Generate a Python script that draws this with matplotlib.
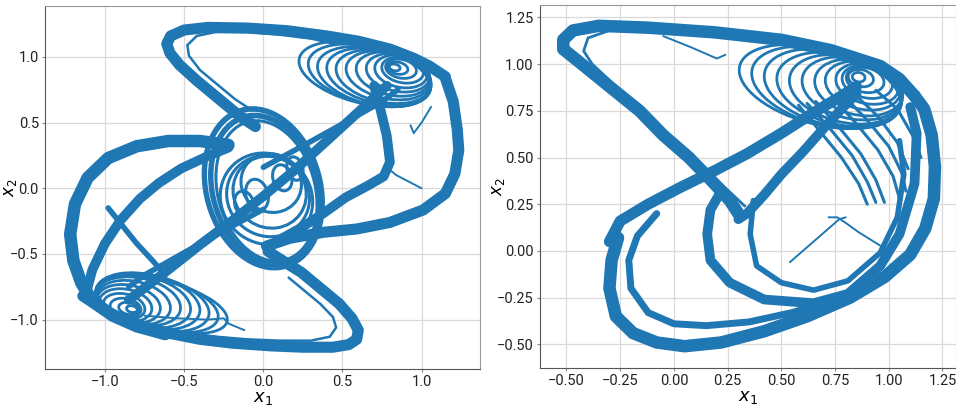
import matplotlib
matplotlib.use("Agg")
import matplotlib.pyplot as plt
from matplotlib.patches import Ellipse

plt.rcParams['font.family'] = ['Roboto', 'DejaVu Sans']

C = '#1f77b4'

# ---------------- left panel (three-scroll attractor) ----------------
left_top_x = [1.15, 1.05, 0.95, 0.80, 0.60, 0.40, 0.15, -0.10, -0.35, -0.50, -0.585, -0.61, -0.59, -0.53, -0.42, -0.28, -0.15, -0.05]
left_top_y = [0.85, 0.93, 0.99, 1.06, 1.12, 1.16, 1.20, 1.22, 1.225, 1.205, 1.16, 1.10, 1.03, 0.94, 0.82, 0.68, 0.55, 0.47]
left_top_in_x = [0.45, 0.30, 0.10, -0.10, -0.30, -0.42, -0.48, -0.47, -0.40, -0.29, -0.18, -0.08]
left_top_in_y = [1.10, 1.14, 1.17, 1.19, 1.19, 1.16, 1.09, 1.01, 0.90, 0.79, 0.68, 0.60]
left_bot_x = [-1.14, -1.00, -0.85, -0.61, -0.40, -0.19, 0.05, 0.25, 0.44, 0.54, 0.59, 0.60, 0.56, 0.48, 0.36, 0.24, 0.12, 0.03]
left_bot_y = [-0.82, -0.93, -1.02, -1.10, -1.15, -1.18, -1.20, -1.21, -1.21, -1.19, -1.15, -1.08, -0.99, -0.88, -0.76, -0.64, -0.55, -0.48]
left_bot_in_x = [-0.50, -0.30, -0.10, 0.10, 0.30, 0.42, 0.46, 0.44, 0.36, 0.26, 0.16]
left_bot_in_y = [-1.10, -1.13, -1.15, -1.16, -1.16, -1.13, -1.06, -0.98, -0.88, -0.78, -0.68]
left_hook_x = [-0.75, -0.55, -0.35, -0.25, -0.22, -0.12]
left_hook_y = [-0.97, -0.99, -1.00, -0.99, -1.03, -1.08]
left_outer_l_x = [-0.22, -0.40, -0.60, -0.80, -0.98, -1.11, -1.19, -1.22, -1.20, -1.15, -1.08, -0.95, -0.80, -0.62]
left_outer_l_y = [0.33, 0.36, 0.36, 0.32, 0.23, 0.08, -0.12, -0.35, -0.55, -0.72, -0.86, -0.97, -1.05, -1.11]
left_inner_l_x = [-1.12, -1.08, -1.00, -0.90, -0.78, -0.66, -0.52, -0.36, -0.22]
left_inner_l_y = [-0.80, -0.62, -0.42, -0.24, -0.08, 0.04, 0.15, 0.24, 0.31]
left_desc_x = [-0.98, -0.90, -0.80, -0.70, -0.62]
left_desc_y = [-0.15, -0.27, -0.42, -0.55, -0.66]
left_outer_r_x = [1.15, 1.20, 1.225, 1.235, 1.21, 1.15, 1.01, 0.80, 0.59, 0.38, 0.17, 0.02]
left_outer_r_y = [0.84, 0.66, 0.45, 0.29, 0.11, -0.04, -0.165, -0.26, -0.31, -0.335, -0.38, -0.44]
left_inner_r_x = [0.70, 0.74, 0.78, 0.80, 0.76, 0.66, 0.52, 0.38, 0.24, 0.12]
left_inner_r_y = [0.78, 0.60, 0.40, 0.20, 0.09, 0.02, -0.07, -0.19, -0.30, -0.38]
left_diag_x = [-0.85, -0.60, -0.40, -0.20, 0.00, 0.20, 0.40, 0.60, 0.78]
left_diag_y = [-0.85, -0.62, -0.43, -0.25, -0.06, 0.14, 0.36, 0.58, 0.78]
left_diag_up_x = [0.00, 0.26, 0.50, 0.75, 0.85]
left_diag_up_y = [0.16, 0.33, 0.49, 0.66, 0.75]
left_diag_lo_x = [-0.85, -0.75, -0.50, -0.26, 0.00]
left_diag_lo_y = [-0.75, -0.66, -0.49, -0.33, -0.16]
left_trans_x = [1.00, 0.92, 0.84, 0.78]
left_trans_y = [0.00, 0.05, 0.10, 0.16]
left_tri_x = [1.06, 1.00, 0.95, 0.93]
left_tri_y = [0.62, 0.50, 0.42, 0.48]

# scrolls (loop centres, widths, heights)
lur_cx = [0.83, 0.85, 0.87, 0.88, 0.87, 0.85, 0.82, 0.79, 0.76, 0.73, 0.70, 0.67, 0.64]
lur_cy = [0.92, 0.915, 0.91, 0.90, 0.89, 0.88, 0.87, 0.86, 0.85, 0.85, 0.85, 0.86, 0.87]
lur_w = [0.07, 0.13, 0.20, 0.27, 0.34, 0.41, 0.48, 0.55, 0.62, 0.68, 0.74, 0.80, 0.86]
lur_h = [0.05, 0.09, 0.14, 0.19, 0.24, 0.28, 0.32, 0.35, 0.38, 0.40, 0.42, 0.43, 0.44]
lll_cx = [-0.83, -0.85, -0.87, -0.88, -0.87, -0.85, -0.82, -0.79, -0.76, -0.73, -0.70, -0.67, -0.64]
lll_cy = [-0.92, -0.915, -0.91, -0.90, -0.89, -0.88, -0.87, -0.86, -0.86, -0.86, -0.87, -0.88, -0.89]
lll_w = [0.07, 0.13, 0.20, 0.27, 0.34, 0.41, 0.48, 0.55, 0.62, 0.68, 0.74, 0.80, 0.86]
lll_h = [0.05, 0.09, 0.14, 0.19, 0.24, 0.28, 0.32, 0.35, 0.38, 0.40, 0.40, 0.38, 0.36]
lc_cx = [0.00, 0.00, 0.01, 0.01, 0.02, 0.02, 0.03, 0.04, 0.05, -0.12, -0.04, 0.12, 0.20]
lc_cy = [0.00, 0.00, -0.01, -0.01, -0.02, -0.08, -0.06, -0.03, 0.04, -0.12, -0.05, 0.08, 0.15]
lc_w = [0.74, 0.71, 0.68, 0.65, 0.62, 0.58, 0.52, 0.46, 0.38, 0.12, 0.14, 0.12, 0.10]
lc_h = [1.24, 1.20, 1.16, 1.12, 1.08, 0.70, 0.62, 0.55, 0.45, 0.20, 0.24, 0.20, 0.18]

# ---------------- right panel ----------------
right_top_x = [1.12, 1.05, 0.96, 0.73, 0.50, 0.19, -0.12, -0.35, -0.47, -0.515, -0.515, -0.45, -0.30, -0.16, -0.05, 0.07, 0.18, 0.26, 0.30]
right_top_y = [0.83, 0.92, 0.99, 1.075, 1.13, 1.17, 1.195, 1.205, 1.18, 1.13, 1.08, 1.02, 0.88, 0.75, 0.62, 0.50, 0.37, 0.27, 0.20]
right_top_in_x = [0.35, 0.15, -0.10, -0.30, -0.40, -0.42, -0.38, -0.25, -0.10, 0.05, 0.20, 0.33]
right_top_in_y = [1.14, 1.16, 1.18, 1.18, 1.14, 1.07, 1.00, 0.86, 0.71, 0.54, 0.38, 0.24]
right_v_x = [0.30, 0.34, 0.42, 0.50, 0.60, 0.70, 0.78, 0.85]
right_v_y = [0.17, 0.20, 0.30, 0.41, 0.53, 0.66, 0.76, 0.84]
right_x_x = [-0.30, -0.25, -0.12, 0.03, 0.19, 0.34, 0.50, 0.65, 0.78, 0.85]
right_x_y = [0.05, 0.16, 0.25, 0.34, 0.43, 0.52, 0.63, 0.74, 0.83, 0.88]
right_outer_x = [1.12, 1.165, 1.20, 1.215, 1.21, 1.17, 1.10, 0.98, 0.82, 0.62, 0.42, 0.22, 0.05, -0.08, -0.19, -0.27, -0.30, -0.29, -0.26]
right_outer_y = [0.83, 0.76, 0.62, 0.45, 0.28, 0.12, -0.02, -0.14, -0.25, -0.35, -0.43, -0.49, -0.51, -0.49, -0.44, -0.35, -0.20, -0.05, 0.07]
right_outer2_x = [0.75, 0.55, 0.35, 0.15, 0.00, -0.12, -0.20, -0.21, -0.17, -0.08]
right_outer2_y = [-0.26, -0.33, -0.38, -0.40, -0.39, -0.33, -0.20, -0.05, 0.08, 0.20]
right_inner_x = [0.21, 0.17, 0.155, 0.17, 0.26, 0.42, 0.65, 0.81, 0.96, 1.05, 1.12, 1.13, 1.10]
right_inner_y = [0.30, 0.22, 0.09, -0.05, -0.17, -0.26, -0.28, -0.23, -0.08, 0.09, 0.36, 0.63, 0.77]
right_inner2_x = [0.37, 0.355, 0.385, 0.50, 0.65, 0.81, 0.96, 1.04, 1.07, 1.05]
right_inner2_y = [0.27, 0.09, -0.08, -0.17, -0.21, -0.16, -0.01, 0.18, 0.41, 0.59]
right_fan_a_x = [0.58, 0.68, 0.78, 0.86, 0.90]
right_fan_a_y = [0.78, 0.64, 0.50, 0.36, 0.25]
right_fan_b_x = [0.66, 0.77, 0.87, 0.94, 0.98]
right_fan_b_y = [0.80, 0.66, 0.52, 0.38, 0.26]
right_fan_c_x = [0.74, 0.85, 0.95, 1.02, 1.05]
right_fan_c_y = [0.82, 0.68, 0.54, 0.40, 0.28]
right_fan_d_x = [0.84, 0.95, 1.04, 1.09]
right_fan_d_y = [0.84, 0.72, 0.58, 0.44]
right_fan_e_x = [0.94, 1.04, 1.11, 1.15]
right_fan_e_y = [0.86, 0.76, 0.62, 0.50]
right_fan_f_x = [0.62, 0.73, 0.83, 0.90, 0.94]
right_fan_f_y = [0.79, 0.65, 0.51, 0.37, 0.26]
right_fan_g_x = [0.79, 0.90, 1.00, 1.06, 1.08]
right_fan_g_y = [0.83, 0.70, 0.56, 0.42, 0.32]
right_trans_x = [1.00, 0.93, 0.86, 0.80, 0.76, 0.72]
right_trans_y = [0.00, 0.05, 0.10, 0.15, 0.18, 0.18]
right_thin_x = [0.54, 0.62, 0.70, 0.77, 0.80]
right_thin_y = [-0.06, 0.02, 0.10, 0.17, 0.18]
right_hook_x = [-0.05, 0.08, 0.20, 0.24]
right_hook_y = [1.15, 1.09, 1.03, 1.05]
rs_cx = [0.86, 0.87, 0.89, 0.90, 0.90, 0.88, 0.86, 0.83, 0.80, 0.77, 0.74, 0.71, 0.68]
rs_cy = [0.93, 0.925, 0.915, 0.905, 0.895, 0.885, 0.875, 0.87, 0.865, 0.865, 0.87, 0.875, 0.88]
rs_w = [0.06, 0.12, 0.18, 0.24, 0.30, 0.36, 0.42, 0.48, 0.54, 0.60, 0.66, 0.72, 0.78]
rs_h = [0.05, 0.09, 0.13, 0.17, 0.21, 0.25, 0.29, 0.32, 0.35, 0.37, 0.39, 0.40, 0.40]

left_xticks = [-1.0, -0.5, 0.0, 0.5, 1.0]
left_yticks = [-1.0, -0.5, 0.0, 0.5, 1.0]
right_xticks = [-0.5, -0.25, 0.0, 0.25, 0.5, 0.75, 1.0, 1.25]
right_yticks = [-0.5, -0.25, 0.0, 0.25, 0.5, 0.75, 1.0, 1.25]

fig = plt.figure(figsize=(9.56, 4.13), dpi=100)
ax1 = fig.add_axes([0.0471, 0.1065, 0.455, 0.879])
ax2 = fig.add_axes([0.5649, 0.1097, 0.4351, 0.878])


def band(ax, x, y, lw):
    ax.plot(x, y, color=C, lw=lw, solid_joinstyle='round', solid_capstyle='round')


def scroll(ax, cx, cy, w, h, lw=2.0, ang=-18):
    for a, b, c, d in zip(cx, cy, w, h):
        ax.add_patch(Ellipse((a, b), c, d, angle=ang, fill=False, ec=C, lw=lw))


# left
band(ax1, left_top_x, left_top_y, 8)
band(ax1, left_top_in_x, left_top_in_y, 1.8)
band(ax1, left_bot_x, left_bot_y, 8)
band(ax1, left_bot_in_x, left_bot_in_y, 1.8)
band(ax1, left_hook_x, left_hook_y, 1.4)
band(ax1, left_outer_l_x, left_outer_l_y, 9)
band(ax1, left_inner_l_x, left_inner_l_y, 7)
band(ax1, left_desc_x, left_desc_y, 4)
band(ax1, left_outer_r_x, left_outer_r_y, 8)
band(ax1, left_inner_r_x, left_inner_r_y, 7)
band(ax1, left_diag_x, left_diag_y, 7)
band(ax1, left_diag_up_x, left_diag_up_y, 4)
band(ax1, left_diag_lo_x, left_diag_lo_y, 4)
band(ax1, left_trans_x, left_trans_y, 1.4)
band(ax1, left_tri_x, left_tri_y, 1.4)
scroll(ax1, lur_cx, lur_cy, lur_w, lur_h)
scroll(ax1, lll_cx, lll_cy, lll_w, lll_h)
scroll(ax1, lc_cx, lc_cy, lc_w, lc_h, lw=2.2, ang=10)

# right
band(ax2, right_top_x, right_top_y, 9)
band(ax2, right_top_in_x, right_top_in_y, 2.0)
band(ax2, right_v_x, right_v_y, 7)
band(ax2, right_x_x, right_x_y, 8)
band(ax2, right_outer_x, right_outer_y, 9)
band(ax2, right_outer2_x, right_outer2_y, 5)
band(ax2, right_inner_x, right_inner_y, 7)
band(ax2, right_inner2_x, right_inner2_y, 4)
for fx, fy in [(right_fan_a_x, right_fan_a_y), (right_fan_b_x, right_fan_b_y),
               (right_fan_c_x, right_fan_c_y), (right_fan_d_x, right_fan_d_y),
               (right_fan_e_x, right_fan_e_y), (right_fan_f_x, right_fan_f_y),
               (right_fan_g_x, right_fan_g_y)]:
    band(ax2, fx, fy, 2.2)
band(ax2, right_trans_x, right_trans_y, 1.4)
band(ax2, right_thin_x, right_thin_y, 1.4)
band(ax2, right_hook_x, right_hook_y, 1.4)
scroll(ax2, rs_cx, rs_cy, rs_w, rs_h)

for ax, xt, yt, xl, yl in [(ax1, left_xticks, left_yticks, (-1.379, 1.369), (-1.376, 1.388)),
                           (ax2, right_xticks, right_yticks, (-0.623, 1.313), (-0.625, 1.316))]:
    ax.set_xlim(*xl)
    ax.set_ylim(*yl)
    ax.set_xticks(xt)
    ax.set_yticks(yt)
    ax.grid(True, color='#d9d9d9', lw=0.9)
    ax.set_axisbelow(True)
    ax.tick_params(labelsize=10.5, length=2.5, color='#888888', labelcolor='#222222', pad=2)
    for s in ['left', 'bottom']:
        ax.spines[s].set_color('#555555')
    for s in ['top', 'right']:
        ax.spines[s].set_color('#999999')
    ax.set_xlabel('$x_1$', fontsize=13, labelpad=0)
    ax.set_ylabel('$x_2$', fontsize=12)

ax1.yaxis.set_label_coords(-0.06, 0.5)
ax2.yaxis.set_label_coords(-0.08, 0.5)
ax1.set_xticklabels(['\u22121.0', '\u22120.5', '0.0', '0.5', '1.0'])
ax1.set_yticklabels(['\u22121.0', '\u22120.5', '0.0', '0.5', '1.0'])
ax2.set_xticklabels(['\u22120.50', '\u22120.25', '0.00', '0.25', '0.50', '0.75', '1.00', '1.25'])
ax2.set_yticklabels(['\u22120.50', '\u22120.25', '0.00', '0.25', '0.50', '0.75', '1.00', '1.25'])

fig.savefig('out.png', dpi=100)
